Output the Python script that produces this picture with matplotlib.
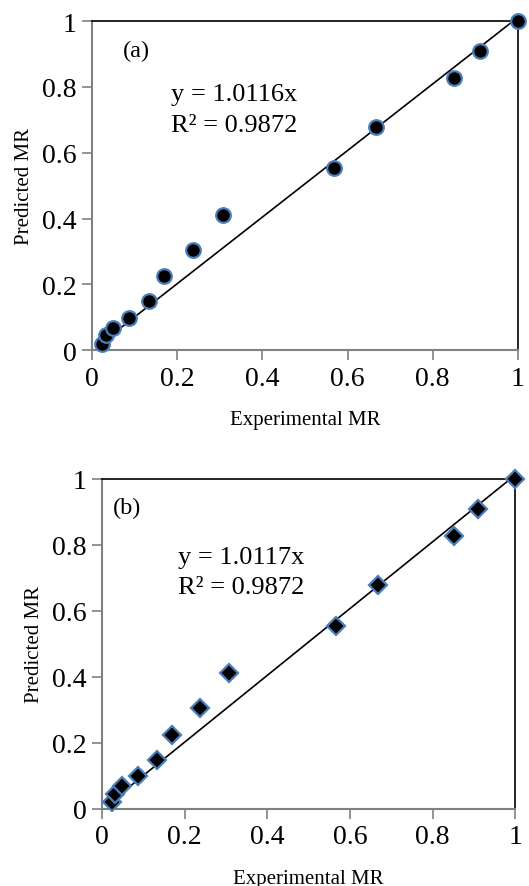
import numpy as np
import matplotlib.pyplot as plt

plt.rcParams['font.family'] = ['Liberation Serif', 'DejaVu Serif']

# experimental vs predicted moisture ratio
exp_mr = [0.023, 0.032, 0.049, 0.087, 0.133, 0.169, 0.237, 0.307, 0.567, 0.667, 0.851, 0.910, 1.0]
pred_a = [0.020, 0.046, 0.068, 0.099, 0.149, 0.225, 0.305, 0.411, 0.555, 0.678, 0.827, 0.910, 1.0]
pred_b = [0.020, 0.046, 0.068, 0.099, 0.149, 0.225, 0.305, 0.411, 0.555, 0.678, 0.827, 0.910, 1.0]
slope_a, slope_b = 1.0116, 1.0117
r2_a, r2_b = 0.9872, 0.9872
ticks = [0, 0.2, 0.4, 0.6, 0.8, 1]
tick_labels = ['0', '0.2', '0.4', '0.6', '0.8', '1']

fig = plt.figure(figsize=(5.29, 8.87), dpi=100)
ax1 = fig.add_axes([0.174, 0.604, 0.805, 0.371])
ax2 = fig.add_axes([0.193, 0.087, 0.781, 0.372])

panels = [
    (ax1, pred_a, slope_a, r2_a, 'o', '(a)', (0.073, 0.91), (0.185, 0.78, 0.684), 14),
    (ax2, pred_b, slope_b, r2_b, 'D', '(b)', (0.025, 0.914), (0.184, 0.763, 0.672), 14),
]

for ax, pred, slope, r2, mk, tag, tagpos, eqpos, xpad in panels:
    x = np.array(exp_mr)
    xl = np.linspace(x.min(), 1.0 / slope, 2)
    ax.plot(xl, slope * xl, color='black', lw=1.2, zorder=2)
    ms = 10.5 if mk == 'o' else 9.5
    ax.plot(exp_mr, pred, linestyle='none', marker=mk, ms=ms, mfc='black',
            mec='#4a7ebb', mew=1.6, zorder=3, clip_on=False)
    ax.set_xlim(0, 1)
    ax.set_ylim(0, 1)
    ax.set_xticks(ticks)
    ax.set_xticklabels(tick_labels)
    ax.set_yticks(ticks)
    ax.set_yticklabels(tick_labels)
    ax.tick_params(direction='out', length=7, width=1.2, color='#808080',
                   labelsize=20, pad=4)
    for s in ['left', 'bottom']:
        ax.spines[s].set_color('#808080')
        ax.spines[s].set_linewidth(1.5)
    for s in ['top', 'right']:
        ax.spines[s].set_color('black')
        ax.spines[s].set_linewidth(1.2)
    ax.set_xlabel('Experimental MR', fontsize=15, labelpad=xpad)
    ax.set_ylabel('Predicted MR', fontsize=15, labelpad=6)
    ax.text(tagpos[0], tagpos[1], tag, transform=ax.transAxes, fontsize=17.5,
            va='center', ha='left')
    ax.text(eqpos[0], eqpos[1], 'y = %.4fx' % slope, transform=ax.transAxes,
            fontsize=19, va='center', ha='left')
    ax.text(eqpos[0], eqpos[2], 'R² = %.4f' % r2, transform=ax.transAxes,
            fontsize=19, va='center', ha='left')

fig.savefig('out.png', dpi=100)
